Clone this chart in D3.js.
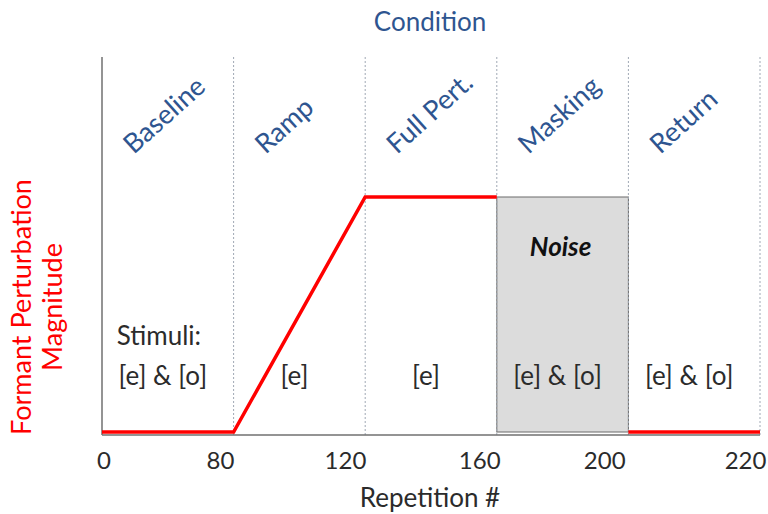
<!DOCTYPE html>
<html><head><meta charset="utf-8">
<script src="https://cdn.jsdelivr.net/npm/d3@7"></script>
<style>
body{margin:0;background:#fff}
text{font-family:Lato,'Open Sans',sans-serif}
</style>
</head><body>
<svg id="c" width="768" height="514"></svg>
<script>
// ---- data ----
const phases = ["Baseline", "Ramp", "Full Pert.", "Masking", "Return"];
const stimuli = ["[e] & [o]", "[e]", "[e]", "[e] & [o]", "[e] & [o]"];
const tickLabels = ["0", "80", "120", "160", "200", "220"];
const tickAt = [0.015, 0.9, 1.85, 2.87, 3.82, 4.89];  // position in phase units
const pertPhase = [0, 1, 2, 3];                       // perturbation path (phase units)
const pertValue = [0, 0, 1, 1];                       // relative magnitude
const returnPhase = [4, 5];
const returnValue = [0, 0];
const maskStart = 3, maskEnd = 4, maskValue = 1;

// ---- layout ----
const plotLeft = 102, plotRight = 760, plotTop = 57, axisY = 435;
const svg = d3.select("#c");

const x = d3.scaleLinear().domain([0, phases.length]).range([plotLeft, plotRight]);
const y = d3.scaleLinear().domain([0, 1]).range([432, 197]);

const blue = "#2e5590", red = "#ff0000", dark = "#2b2b2b";
const fs = 26;

// masking box
svg.append("rect")
  .attr("x", x(maskStart)).attr("y", y(maskValue))
  .attr("width", x(maskEnd) - x(maskStart)).attr("height", y(0) - y(maskValue))
  .attr("fill", "#dcdcdc").attr("stroke", "#6b6b6b").attr("stroke-width", 1);

// dotted phase boundaries
svg.append("g").selectAll("line").data(d3.range(1, phases.length + 1)).join("line")
  .attr("x1", d => x(d)).attr("x2", d => x(d))
  .attr("y1", plotTop).attr("y2", axisY)
  .attr("stroke", "#a0a8b4").attr("stroke-width", 1).attr("stroke-dasharray", "2,2");

// axes lines
svg.append("line").attr("x1", plotLeft).attr("x2", plotLeft).attr("y1", plotTop).attr("y2", axisY)
  .attr("stroke", "#707070").attr("stroke-width", 1.5);
svg.append("line").attr("x1", plotLeft).attr("x2", plotRight).attr("y1", axisY).attr("y2", axisY)
  .attr("stroke", "#707070").attr("stroke-width", 1.5);

// perturbation line
const line = d3.line().x(d => x(d[0])).y(d => y(d[1]));
svg.append("path").datum(pertPhase.map((p, i) => [p, pertValue[i]]))
  .attr("d", line).attr("fill", "none").attr("stroke", red).attr("stroke-width", 3.5);
svg.append("path").datum(returnPhase.map((p, i) => [p, returnValue[i]]))
  .attr("d", line).attr("fill", "none").attr("stroke", red).attr("stroke-width", 3.5);

// x tick labels
svg.append("g").selectAll("text").data(tickLabels).join("text")
  .attr("x", (d, i) => x(tickAt[i])).attr("y", 469)
  .attr("text-anchor", "middle").attr("font-size", 24).attr("fill", dark)
  .text(d => d);

// x axis title
svg.append("text").attr("x", 430).attr("y", 507).attr("text-anchor", "middle")
  .attr("font-size", fs).attr("fill", dark).text("Repetition #");

// top title
svg.append("text").attr("x", 430).attr("y", 31).attr("text-anchor", "middle")
  .attr("font-size", fs).attr("fill", blue).text("Condition");

// phase labels (rotated)
svg.append("g").selectAll("text").data(phases).join("text")
  .attr("transform", (d, i) => `translate(${x(i + 0.5) - 34},155) rotate(-42)`)
  .attr("text-anchor", "start").attr("font-size", 27).attr("fill", blue)
  .text(d => d);

// stimuli labels
svg.append("g").selectAll("text").data(stimuli).join("text")
  .attr("x", (d, i) => x(i + 0.5) - 5).attr("y", 385)
  .attr("text-anchor", "middle").attr("font-size", fs).attr("fill", dark)
  .text(d => d);
svg.append("text").attr("x", x(0.5) - 51).attr("y", 345).attr("text-anchor", "start")
  .attr("font-size", fs).attr("fill", dark).text("Stimuli:");

// noise label
svg.append("text").attr("x", x((maskStart + maskEnd) / 2) - 2).attr("y", 256)
  .attr("text-anchor", "middle").attr("font-size", fs).attr("font-weight", "bold")
  .attr("font-style", "italic").attr("fill", "#111").text("Noise");

// y axis title (rotated, two lines)
const yt = svg.append("text").attr("transform", "translate(31,307) rotate(-90)")
  .attr("text-anchor", "middle").attr("font-size", 27).attr("fill", red);
yt.append("tspan").attr("x", 0).attr("dy", 0).text("Formant Perturbation");
yt.append("tspan").attr("x", 0).attr("dy", 31).text("Magnitude");
</script>
</body></html>
